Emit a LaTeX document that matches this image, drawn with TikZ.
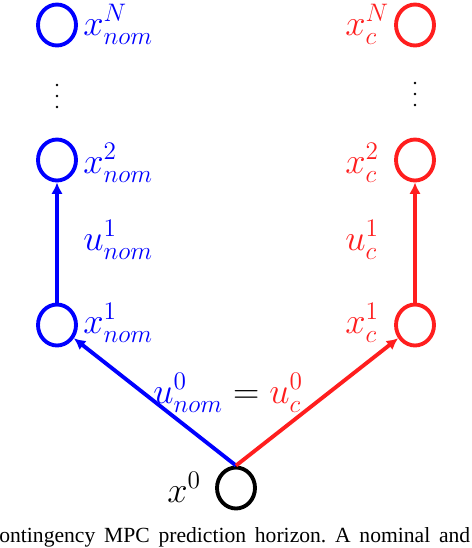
\documentclass[tikz,border=0pt]{standalone}
\usepackage{fontspec}
\newfontfamily\capfont{Liberation Serif}
\usetikzlibrary{shapes.geometric, arrows.meta}
\definecolor{nomblue}{RGB}{0,0,255}
\definecolor{cred}{RGB}{255,30,30}

\begin{document}
\begin{tikzpicture}[x=0.02cm, y=-0.02cm, font=\fontsize{21}{25}\selectfont,
    state/.style={ellipse, draw, line width=2.2pt, minimum width=0.76cm, minimum height=0.82cm, inner sep=0pt},
    lbl/.style={anchor=base west, inner sep=0pt},
    ctrl/.style={line width=2.2pt, -{Latex[length=6.5pt, width=6.5pt]}}]
    \useasboundingbox (0,0) rectangle (472,548);

    % states
    \node[state, nomblue] (bN) at (57,25) {};
    \node[state, nomblue] (b2) at (57,160) {};
    \node[state, nomblue] (b1) at (57,325) {};
    \node[state, cred] (rN) at (415,25) {};
    \node[state, cred] (r2) at (415,160) {};
    \node[state, cred] (r1) at (415,325) {};
    \node[state, black] (x0) at (236,488) {};

    % dots between x^2 and x^N
    \foreach \y in {85,96,107} {
        \fill (57,\y) circle (1.3);
        \fill (415,\y-2) circle (1.3);
    }

    % inputs
    \draw[ctrl, nomblue] (b1) -- (b2);
    \draw[ctrl, cred] (r1) -- (r2);
    \draw[ctrl, nomblue] (x0.north) -- (b1);
    \draw[ctrl, cred] (x0.north) -- (r1);

    % labels
    \node[lbl, nomblue] (lbN) at (83,35) {$x^N_{nom}$};
    \node[lbl, nomblue] (lb2) at (83,173) {$x^2_{nom}$};
    \node[lbl, nomblue] (lub1) at (83,250) {$u^1_{nom}$};
    \node[lbl, nomblue] (lb1) at (83,333) {$x^1_{nom}$};
    \node[lbl, cred] (lrN) at (345,35) {$x^N_c$};
    \node[lbl, cred] (lr2) at (345,173) {$x^2_c$};
    \node[lbl, cred] (lur1) at (345,250) {$u^1_c$};
    \node[lbl, cred] (lr1) at (345,333) {$x^1_c$};
    \node[lbl] (lu0) at (153,403) {$\color{nomblue}u^0_{nom}\color{black} = \color{cred}u^0_c$};
    \node[lbl] (lx0) at (167,502) {$x^0$};

    \node[lbl] (cap) at (-1,542)
        {\capfont\fontsize{12.3}{15}\selectfont\frenchspacing\makebox[9.42cm][s]{ontingency MPC prediction horizon. A nominal and}};
\end{tikzpicture}
\end{document}
